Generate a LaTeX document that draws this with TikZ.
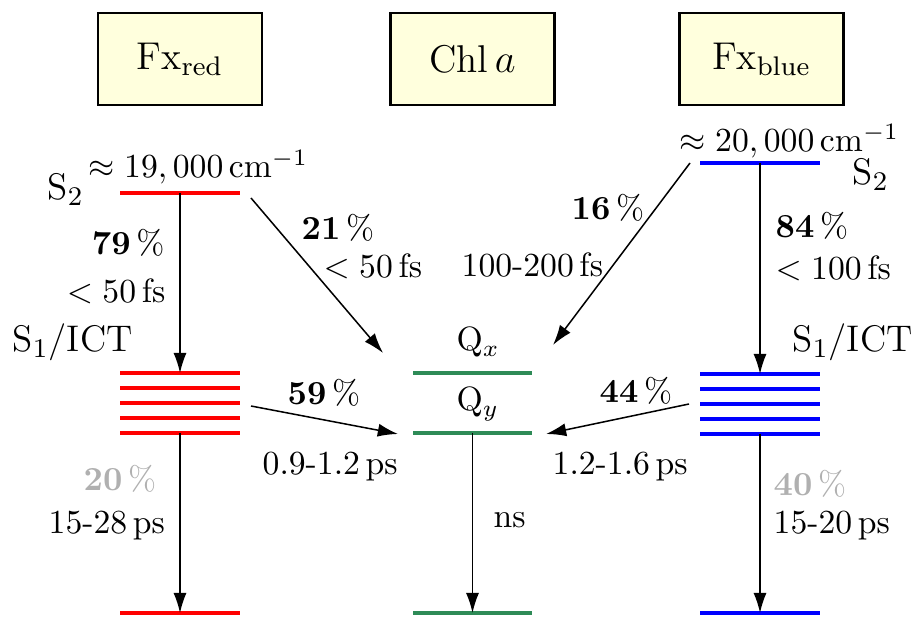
\documentclass[tikz,border=0pt]{standalone}
\usetikzlibrary{arrows.meta}
\definecolor{boxfill}{RGB}{255,255,221}
\definecolor{lvgreen}{RGB}{46,139,87}
\definecolor{pctgray}{RGB}{176,176,176}
\begin{document}
\begin{tikzpicture}[x=0.297pt,y=-0.297pt,
  every node/.style={inner sep=0pt},
  lab/.style={anchor=base west},
  labe/.style={anchor=base east},
  stt/.style={font=\fontsize{11}{13.5}\selectfont},
  mol/.style={draw=black, line width=0.8pt, fill=boxfill, minimum width=48.7pt, minimum height=27.3pt, font=\fontsize{11.5}{14}\selectfont},
  lvl/.style={line width=1.2pt},
  trans/.style={line width=0.45pt, -{Latex[length=6pt,width=3.9pt]}}]
\useasboundingbox (0,0) rectangle (916,617);

% molecule boxes
\node[mol] (bred) at (180,59) {Fx$_{\mathrm{red}}$};
\node[mol] (bchl) at (472.5,59) {Chl\,$a$};
\node[mol] (bblue) at (761.5,59) {Fx$_{\mathrm{blue}}$};

% red levels
\coordinate (rS2a) at (120,193); \coordinate (rS2b) at (240,193);
\draw[lvl,red] (rS2a) -- (rS2b);
\foreach \yy in {373,388,403,418,433} \draw[lvl,red] (120,\yy) -- (240,\yy);
\coordinate (rGa) at (120,613); \coordinate (rGb) at (240,613);
\draw[lvl,red] (rGa) -- (rGb);

% green levels
\coordinate (qxa) at (413,373); \coordinate (qxb) at (532,373);
\coordinate (qya) at (413,433); \coordinate (qyb) at (532,433);
\coordinate (cGa) at (413,613); \coordinate (cGb) at (532,613);
\draw[lvl,lvgreen] (qxa) -- (qxb);
\draw[lvl,lvgreen] (qya) -- (qyb);
\draw[lvl,lvgreen] (cGa) -- (cGb);

% blue levels
\coordinate (bS2a) at (700,163); \coordinate (bS2b) at (820,163);
\draw[lvl,blue] (bS2a) -- (bS2b);
\foreach \yy in {374,389,404,419,434} \draw[lvl,blue] (700,\yy) -- (820,\yy);
\coordinate (bGa) at (700,613); \coordinate (bGb) at (820,613);
\draw[lvl,blue] (bGa) -- (bGb);

% arrow anchor points
\coordinate (rS2c) at (180,193);
\coordinate (rS1t) at (180,373);
\coordinate (rS1b) at (180,433);
\coordinate (rG) at (180,613);
\coordinate (cQy) at (472.5,433);
\coordinate (cG) at (472.5,613);
\coordinate (bS2c) at (760,163);
\coordinate (bS1t) at (760,374);
\coordinate (bS1b) at (760,434);
\coordinate (bG) at (760,613);
\coordinate (rDs) at (251,198); \coordinate (qxL) at (383,353);
\coordinate (rSs) at (251,406); \coordinate (qyL) at (398,434);
\coordinate (bDs) at (690,163); \coordinate (qxR) at (553,345);
\coordinate (bSs) at (689,404); \coordinate (qyR) at (546,434);

% transitions
\draw[trans] (rS2c) -- (rS1t);
\draw[trans] (rDs) -- (qxL);
\draw[trans] (rSs) -- (qyL);
\draw[trans] (rS1b) -- (rG);
\draw[trans] (cQy) -- (cG);
\draw[trans] (bDs) -- (qxR);
\draw[trans] (bS2c) -- (bS1t);
\draw[trans] (bSs) -- (qyR);
\draw[trans] (bS1b) -- (bG);

% state labels
\node[lab,stt] (lS2r) at (47,200) {S$_2$};
\node[lab] (lEr) at (88,178) {$\approx 19,000\,\mathrm{cm}^{-1}$};
\node[lab,stt] (lS1r) at (12,352) {S$_1$/ICT};
\node[lab] (lQx) at (456,351) {Q$_x$};
\node[lab] (lQy) at (456,411) {Q$_y$};
\node[lab] (lEb) at (679,152) {$\approx 20,000\,\mathrm{cm}^{-1}$};
\node[lab,stt] (lS2b) at (852,185) {S$_2$};
\node[lab,stt] (lS1b) at (792,352) {S$_1$/ICT};

% transition labels
\node[labe] (p79) at (165,255) {\textbf{79}\,\%};
\node[labe] (t79) at (166,303) {$<50\,$fs};
\node[lab] (p21) at (301,240) {\textbf{21}\,\%};
\node[lab] (t21) at (323,278) {$<50\,$fs};
\node[lab] (p59) at (287,405) {\textbf{59}\,\%};
\node[lab] (t59) at (262,475) {0.9-1.2\,ps};
\node[lab] (p16) at (571,220) {\textbf{16}\,\%};
\node[lab] (t16) at (461,277) {100-200\,fs};
\node[lab] (p84) at (775,238) {\textbf{84}\,\%};
\node[lab] (t84) at (775,280) {$<100\,$fs};
\node[lab] (p44) at (599,403) {\textbf{44}\,\%};
\node[lab] (t44) at (552,475) {1.2-1.6\,ps};
\node[lab,pctgray] (p20) at (83,490) {\textbf{20}\,\%};
\node[lab] (t20) at (48,533) {15-28\,ps};
\node[lab] (tns) at (493,527) {ns};
\node[lab,pctgray] (p40) at (773,495) {\textbf{40}\,\%};
\node[lab] (t40) at (773,533) {15-20\,ps};
\end{tikzpicture}
\end{document}
